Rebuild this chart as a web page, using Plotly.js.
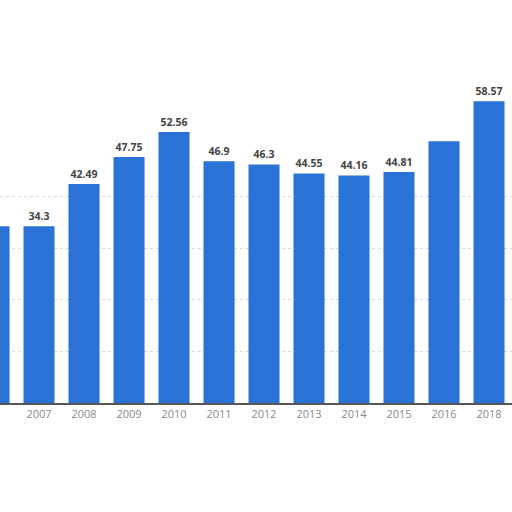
<!DOCTYPE html>
<html>
<head>
<meta charset="utf-8">
<script src="https://cdn.plot.ly/plotly-3.0.1.min.js"></script>
<style>
  html, body { margin: 0; padding: 0; background: #fff; }
  #graf { width: 512px; height: 512px; }
</style>
</head>
<body>
<div id="graf"></div>
<script>
var roky = ["2006", "2007", "2008", "2009", "2010", "2011", "2012", "2013", "2014", "2015", "2016", "2018"];
var hodnoty = [34.3, 34.3, 42.49, 47.75, 52.56, 46.9, 46.3, 44.55, 44.16, 44.81, 50.8, 58.57];
var popisky = ["34.3", "34.3", "42.49", "47.75", "52.56", "46.9", "46.3", "44.55", "44.16", "44.81", "", "58.57"];
var mriezka = [0, 10, 20, 30, 40];

var trace1 = {
    x: roky,
    y: hodnoty,
    type: 'bar',
    text: popisky,
    textposition: 'outside',
    cliponaxis: false,
    textfont: {
        family: 'Open Sans, Arial, sans-serif',
        size: 10.5,
        weight: 'bold',
        color: '#444'
    },
    marker: {
        color: 'rgb(42, 114, 214)'
    },
    hoverinfo: 'none'
};

var layout = {
    width: 512,
    height: 512,
    margin: { l: 0, r: 0, t: 68, b: 109 },
    paper_bgcolor: '#fff',
    plot_bgcolor: '#fff',
    bargap: 0.31,
    showlegend: false,
    font: { family: 'Open Sans, Arial, sans-serif' },
    xaxis: {
        type: 'category',
        range: [0.133, 11.511],
        showgrid: false,
        showline: true,
        linecolor: '#555',
        linewidth: 1.5,
        ticks: '',
        tickfont: { size: 11, color: '#8a8a8a' },
        fixedrange: true
    },
    yaxis: {
        range: [0, 65],
        tickmode: 'array',
        tickvals: mriezka,
        showgrid: true,
        gridcolor: '#d8d8d8',
        griddash: 'dot',
        showticklabels: false,
        zeroline: false,
        fixedrange: true
    }
};

Plotly.newPlot('graf', [trace1], layout, { displayModeBar: false, staticPlot: true });
</script>
</body>
</html>
